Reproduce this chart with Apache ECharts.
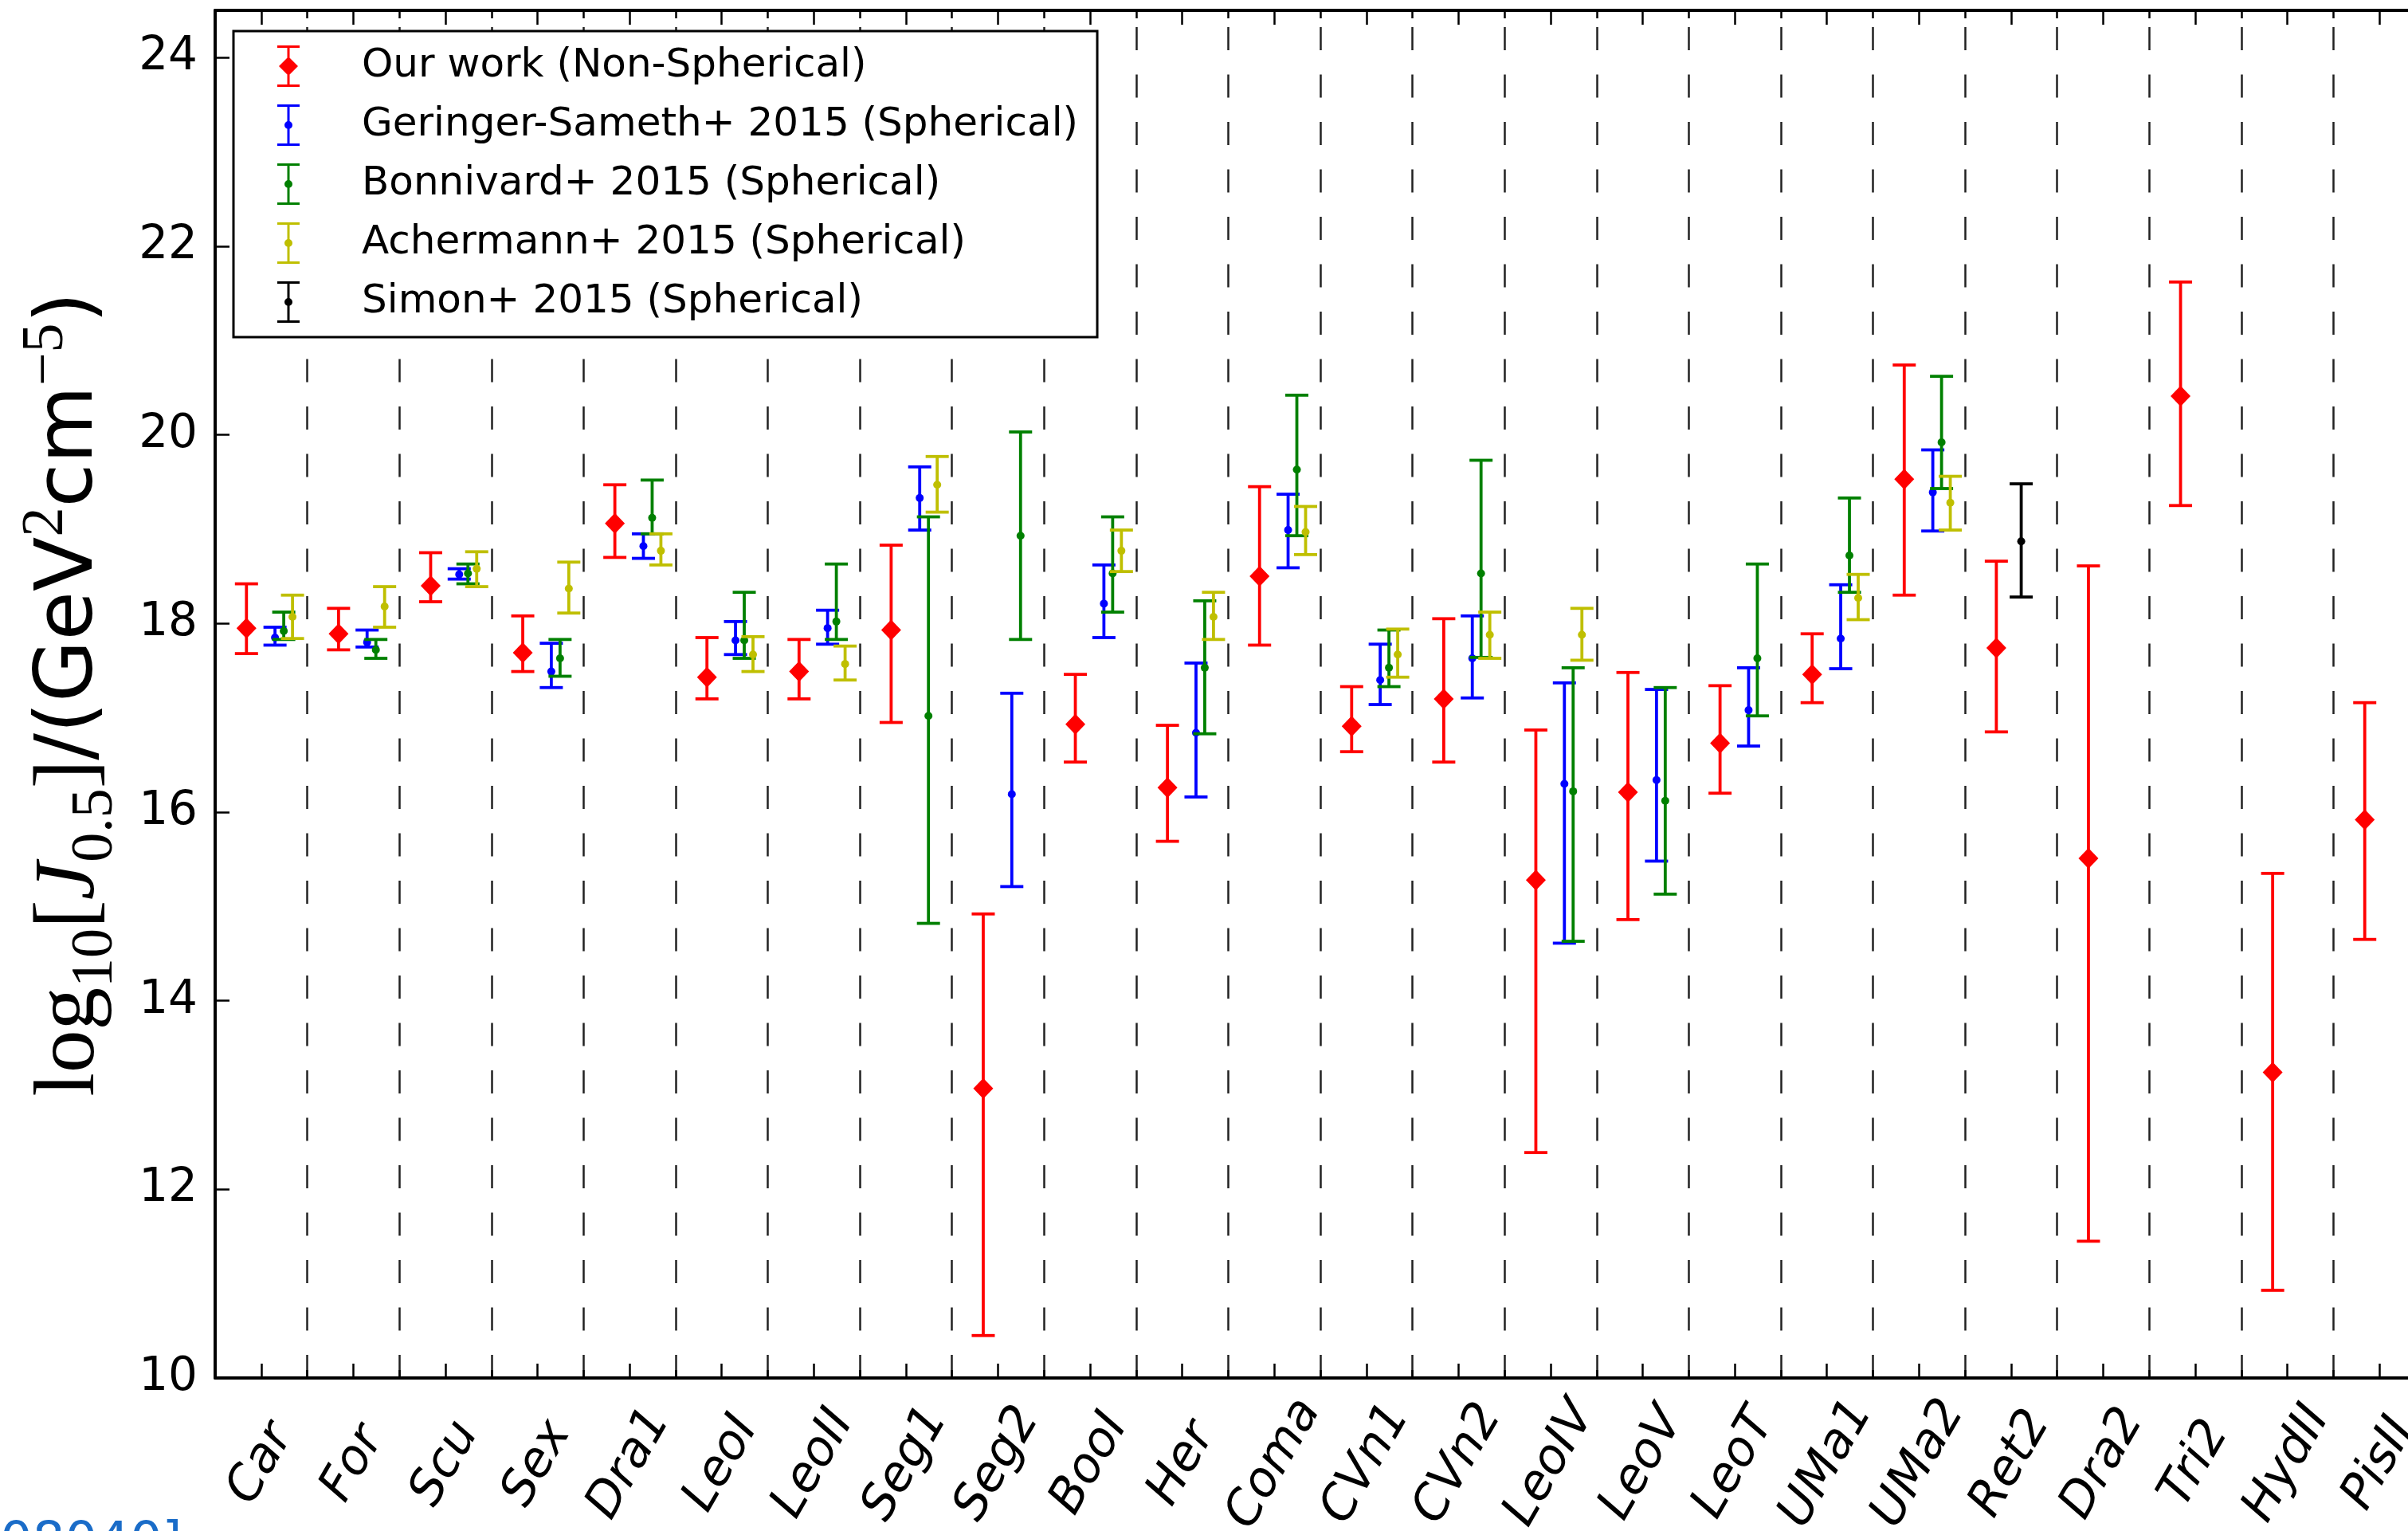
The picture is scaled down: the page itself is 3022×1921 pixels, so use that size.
<!DOCTYPE html>
<html>
<head>
<meta charset="utf-8">
<script src="https://cdn.jsdelivr.net/npm/echarts@6/dist/echarts.min.js"></script>
<style>
  html, body { margin: 0; padding: 0; background: #fff; }
  #chart { width: 3022px; height: 1921px; }
</style>
</head>
<body>
<div id="chart"></div>
<script>
// dwarf galaxies, left to right
const dwarfs = ['Car', 'For', 'Scu', 'Sex', 'Dra1', 'LeoI', 'LeoII', 'Seg1', 'Seg2', 'BooI', 'Her', 'Coma',
  'CVn1', 'CVn2', 'LeoIV', 'LeoV', 'LeoT', 'UMa1', 'UMa2', 'Ret2', 'Dra2', 'Tri2', 'HydII', 'PisII']

// [dwarf, lower, value, upper]  in log10 J_0.5
const ourWork = [
  ['Car', 17.68, 17.95, 18.42], ['For', 17.72, 17.89, 18.16], ['Scu', 18.23, 18.40, 18.75],
  ['Sex', 17.49, 17.69, 18.08], ['Dra1', 18.70, 19.06, 19.47], ['LeoI', 17.20, 17.43, 17.85],
  ['LeoII', 17.20, 17.49, 17.83], ['Seg1', 16.95, 17.93, 18.83], ['Seg2', 10.45, 13.07, 14.92],
  ['BooI', 16.53, 16.93, 17.46], ['Her', 15.69, 16.26, 16.92], ['Coma', 17.77, 18.50, 19.45],
  ['CVn1', 16.64, 16.91, 17.33], ['CVn2', 16.53, 17.20, 18.05], ['LeoIV', 12.39, 15.28, 16.87],
  ['LeoV', 14.86, 16.21, 17.48], ['LeoT', 16.20, 16.73, 17.34], ['UMa1', 17.16, 17.46, 17.89],
  ['UMa2', 18.30, 19.53, 20.74], ['Ret2', 16.85, 17.74, 18.66], ['Dra2', 11.45, 15.51, 18.61],
  ['Tri2', 19.25, 20.41, 21.62], ['HydII', 10.93, 13.24, 15.35], ['PisII', 14.65, 15.92, 17.16]
]

const geringerSameth = [
  ['Car', 17.77, 17.85, 17.96], ['For', 17.75, 17.80, 17.93], ['Scu', 18.47, 18.52, 18.58],
  ['Sex', 17.32, 17.49, 17.79], ['Dra1', 18.69, 18.82, 18.95], ['LeoI', 17.67, 17.82, 18.02],
  ['LeoII', 17.78, 17.95, 18.14], ['Seg1', 18.99, 19.33, 19.66], ['Seg2', 15.21, 16.19, 17.26],
  ['BooI', 17.85, 18.21, 18.62], ['Her', 16.16, 16.84, 17.58], ['Coma', 18.59, 18.99, 19.37],
  ['CVn1', 17.14, 17.40, 17.78], ['CVn2', 17.21, 17.63, 18.08], ['LeoIV', 14.61, 16.30, 17.37],
  ['LeoV', 15.48, 16.34, 17.30], ['LeoT', 16.70, 17.08, 17.53], ['UMa1', 17.52, 17.84, 18.41],
  ['UMa2', 18.98, 19.39, 19.84]
]

const bonnivard = [
  ['Car', 17.83, 17.92, 18.12], ['For', 17.63, 17.72, 17.83], ['Scu', 18.42, 18.53, 18.63],
  ['Sex', 17.44, 17.63, 17.83], ['Dra1', 18.95, 19.12, 19.52], ['LeoI', 17.63, 17.82, 18.33],
  ['LeoII', 17.83, 18.02, 18.63], ['Seg1', 14.82, 17.02, 19.13], ['Seg2', 17.83, 18.93, 20.03],
  ['BooI', 18.12, 18.53, 19.13], ['Her', 16.83, 17.53, 18.24], ['Coma', 18.93, 19.63, 20.42],
  ['CVn1', 17.33, 17.53, 17.93], ['CVn2', 17.64, 18.53, 19.73], ['LeoIV', 14.63, 16.22, 17.53],
  ['LeoV', 15.13, 16.12, 17.32], ['LeoT', 17.02, 17.63, 18.63], ['UMa1', 18.33, 18.72, 19.33],
  ['UMa2', 19.43, 19.92, 20.62]
]

const achermann = [
  ['Car', 17.84, 18.07, 18.30], ['For', 17.96, 18.18, 18.39], ['Scu', 18.39, 18.58, 18.76],
  ['Sex', 18.11, 18.37, 18.65], ['Dra1', 18.62, 18.77, 18.95], ['LeoI', 17.49, 17.67, 17.86],
  ['LeoII', 17.40, 17.57, 17.76], ['Seg1', 19.18, 19.47, 19.77], ['BooI', 18.55, 18.77, 18.99],
  ['Her', 17.83, 18.07, 18.33], ['Coma', 18.73, 18.97, 19.24], ['CVn1', 17.43, 17.67, 17.94],
  ['CVn2', 17.63, 17.88, 18.12], ['LeoIV', 17.61, 17.88, 18.16], ['UMa1', 18.04, 18.27, 18.52],
  ['UMa2', 18.99, 19.28, 19.56]
]

const simon = [
  ['Ret2', 18.28, 18.87, 19.48]
]

const seriesDefs = [
  { name: 'Our work (Non-Spherical)', rows: ourWork, color: '#ff0000', offset: -0.16, marker: 'diamond' },
  { name: 'Geringer-Sameth+ 2015 (Spherical)', rows: geringerSameth, color: '#0000ff', offset: 0.15, marker: 'dot' },
  { name: 'Bonnivard+ 2015 (Spherical)', rows: bonnivard, color: '#008000', offset: 0.245, marker: 'dot' },
  { name: 'Achermann+ 2015 (Spherical)', rows: achermann, color: '#bfbf00', offset: 0.34, marker: 'dot' },
  { name: 'Simon+ 2015 (Spherical)', rows: simon, color: '#000000', offset: 0.11, marker: 'dot' }
]

// legend glyphs: caps + stem + marker
const capsAndStem = 'M0,0H28V3H0Z M0,49H28V52H0Z M12.5,3H15.5V49H12.5Z '
const diamondIcon = 'path://' + capsAndStem + 'M14,14L26,26L14,38L2,26Z'
const dotIcon = 'path://' + capsAndStem + 'M9,26A5,5 0 1,1 19,26A5,5 0 1,1 9,26Z'

const errorBar = (offset, marker) => (params, api) => {
  const idx = api.value(0)
  const band = api.size([1, 0])[0]
  const x = api.coord([idx, 0])[0] + offset * band
  const lo = api.coord([idx, api.value(1)])[1]
  const mid = api.coord([idx, api.value(2)])[1]
  const hi = api.coord([idx, api.value(3)])[1]
  const color = api.visual('color')
  const line = { stroke: color, lineWidth: 3.8 }
  const children = [
    { type: 'line', shape: { x1: x, y1: hi, x2: x, y2: lo }, style: line },
    { type: 'line', shape: { x1: x - 14.5, y1: hi, x2: x + 14.5, y2: hi }, style: line },
    { type: 'line', shape: { x1: x - 14.5, y1: lo, x2: x + 14.5, y2: lo }, style: line }
  ]
  if (marker === 'diamond') {
    children.push({ type: 'polygon', shape: { points: [[x, mid - 13], [x + 12.5, mid], [x, mid + 13], [x - 12.5, mid]] }, style: { fill: color } })
  } else {
    children.push({ type: 'circle', shape: { cx: x, cy: mid, r: 5 }, style: { fill: color } })
  }
  return { type: 'group', children }
}

const tickStyle = { color: '#000', width: 2.5 }

const chart = echarts.init(document.getElementById('chart'), null, { renderer: 'canvas' })

chart.setOption({
  animation: false,
  backgroundColor: '#fff',
  grid: { left: 270, top: 13, width: 2774, height: 1716, containLabel: false, outerBoundsMode: 'none' },
  legend: {
    orient: 'vertical',
    left: 293,
    top: 39,
    padding: [18, 24, 18, 55],
    itemWidth: 28,
    itemHeight: 52,
    itemGap: 22,
    backgroundColor: '#fff',
    borderColor: '#000',
    borderWidth: 3,
    borderRadius: 0,
    selectedMode: false,
    textStyle: { fontFamily: 'DejaVu Sans', fontSize: 50, color: '#000', lineHeight: 52, padding: [0, 0, 0, 73] },
    data: seriesDefs.map(d => ({ name: d.name, icon: d.marker === 'diamond' ? diamondIcon : dotIcon }))
  },
  xAxis: [
    {
      type: 'category', data: dwarfs, position: 'bottom', boundaryGap: true,
      axisLine: { show: true, lineStyle: { color: '#000', width: 4 } },
      axisTick: { show: true, inside: true, alignWithLabel: true, length: 18, interval: 0, lineStyle: tickStyle },
      axisLabel: {
        interval: 0, rotate: 60, align: 'center', verticalAlign: 'middle', margin: 108,
        fontFamily: 'DejaVu Sans', fontStyle: 'italic', fontSize: 61, color: '#000'
      },
      splitLine: { show: false }
    },
    {
      type: 'category', data: dwarfs, position: 'bottom', boundaryGap: true,
      axisLine: { show: false },
      axisTick: { show: true, inside: true, length: 10, interval: 0, lineStyle: tickStyle },
      axisLabel: { show: false },
      splitLine: {
        show: true, interval: 0, showMinLine: false,
        lineStyle: { color: '#222', width: 2.5, type: [29, 30.5], dashOffset: 38.5 }
      }
    },
    {
      type: 'category', data: dwarfs, position: 'top', boundaryGap: true,
      axisLine: { show: true, lineStyle: { color: '#000', width: 4 } },
      axisTick: { show: true, inside: true, alignWithLabel: true, length: 18, interval: 0, lineStyle: tickStyle },
      axisLabel: { show: false },
      splitLine: { show: false }
    },
    {
      type: 'category', data: dwarfs, position: 'top', boundaryGap: true,
      axisLine: { show: false },
      axisTick: { show: true, inside: true, length: 10, interval: 0, lineStyle: tickStyle },
      axisLabel: { show: false },
      splitLine: { show: false }
    }
  ],
  yAxis: {
    type: 'value', min: 10, max: 24.5, interval: 2,
    axisLine: { show: true, lineStyle: { color: '#000', width: 4 } },
    axisTick: { show: true, inside: true, length: 18, lineStyle: tickStyle },
    axisLabel: {
      fontFamily: 'DejaVu Sans', fontSize: 58, color: '#000', margin: 22, showMaxLabel: false,
      formatter: v => (v % 2 === 0 ? String(v) : '')
    },
    splitLine: { show: false },
    name: '{s|log}{sb|10}{s|[}{si|J}{sb|0.5}{s|]}{t|/(GeV}{sp|2}{t|cm}{sp|\u22125}{t|)}',
    nameLocation: 'middle',
    nameRotate: 90,
    nameGap: 112,
    nameMoveOverlap: false,
    nameTextStyle: {
      color: '#000',
      rich: {
        s: { fontFamily: 'Liberation Serif', fontSize: 107, color: '#000' },
        si: { fontFamily: 'Liberation Serif', fontStyle: 'italic', fontSize: 107, color: '#000' },
        sb: { fontFamily: 'Liberation Serif', fontSize: 74, color: '#000', padding: [64, 0, 0, 0] },
        sp: { fontFamily: 'Liberation Serif', fontSize: 74, color: '#000', padding: [0, 0, 60, 0] },
        t: { fontFamily: 'DejaVu Sans', fontSize: 100, color: '#000' }
      }
    }
  },
  graphic: [
    {
      type: 'text', left: 0, top: 1906, silent: true,
      style: { text: '08040]', fontFamily: 'DejaVu Sans', fontSize: 64, fill: '#1a6cc8' }
    }
  ],
  series: seriesDefs.map(d => ({
    name: d.name,
    type: 'custom',
    xAxisIndex: 0,
    yAxisIndex: 0,
    clip: false,
    itemStyle: { color: d.color },
    encode: { x: 0, y: [1, 2, 3] },
    renderItem: errorBar(d.offset, d.marker),
    data: d.rows.map(r => [dwarfs.indexOf(r[0]), r[1], r[2], r[3]])
  }))
})
</script>
</body>
</html>
